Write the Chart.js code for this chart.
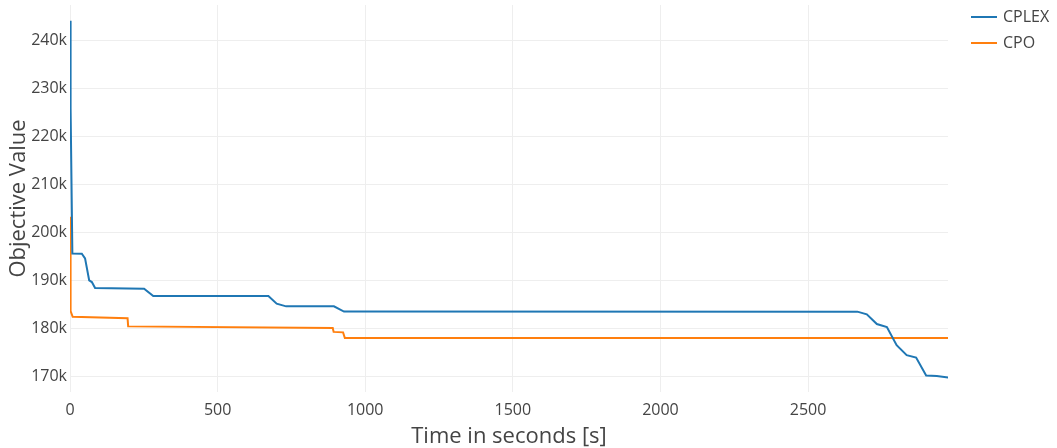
<!DOCTYPE html>
<html>
<head>
<meta charset="utf-8">
<script src="https://cdn.jsdelivr.net/npm/chart.js@4"></script>
<style>
  html, body { margin: 0; padding: 0; background: #fff; }
  #wrap { width: 1057px; height: 448px; }
</style>
</head>
<body>
<div id="wrap"><canvas id="myChart"></canvas></div>
<script>
// datos (tiempo en s, valor objetivo)
const cplexTime = [0, 2, 8, 40, 51, 65, 74, 85, 251, 282, 672, 700, 732, 894, 928, 2667, 2699, 2733, 2767, 2800, 2834, 2866, 2900, 2936, 2975];
const cplexValue = [244200, 226000, 195600, 195560, 194600, 190000, 189650, 188400, 188270, 186730, 186730, 185150, 184580, 184580, 183500, 183480, 182920, 180900, 180270, 176460, 174380, 173900, 170150, 170060, 169730];

const cpoTime = [0, 1, 3, 9, 195, 197, 890, 893, 925, 931, 2975];
const cpoValue = [203300, 190000, 183600, 182400, 182100, 180400, 180050, 179250, 179150, 177980, 177980];

const xTicks = [0, 500, 1000, 1500, 2000, 2500];
const yTicks = [170000, 180000, 190000, 200000, 210000, 220000, 230000, 240000];

const toPoints = (xs, ys) => xs.map((x, i) => ({ x: x, y: ys[i] }));

const font = 'Open Sans';
const textColor = '#444';

// leyenda al estilo plotly, a la derecha
const sideLegend = {
  id: 'sideLegend',
  afterDraw(chart) {
    const c = chart.ctx;
    c.save();
    c.font = '16px "' + font + '"';
    c.textBaseline = 'middle';
    chart.data.datasets.forEach((ds, i) => {
      const y = 17 + i * 26;
      c.strokeStyle = ds.borderColor;
      c.lineWidth = 2;
      c.beginPath();
      c.moveTo(971, y);
      c.lineTo(997, y);
      c.stroke();
      c.fillStyle = textColor;
      c.fillText(ds.label, 1003, y);
    });
    c.restore();
  }
};

const ctx = document.getElementById('myChart');

new Chart(ctx, {
  type: 'line',
  data: {
    datasets: [{
      label: 'CPLEX',
      data: toPoints(cplexTime, cplexValue),
      borderColor: '#1f77b4',
      borderWidth: 2,
      pointRadius: 0,
      tension: 0
    }, {
      label: 'CPO',
      data: toPoints(cpoTime, cpoValue),
      borderColor: '#ff7f0e',
      borderWidth: 2,
      pointRadius: 0,
      tension: 0
    }]
  },
  options: {
    responsive: true,
    maintainAspectRatio: false,
    animation: false,
    layout: { padding: { top: 2, right: 109, bottom: 0, left: 0 } },
    plugins: {
      legend: { display: false },
      tooltip: { enabled: false }
    },
    scales: {
      x: {
        type: 'linear',
        min: 0,
        max: 2974,
        afterBuildTicks: s => { s.ticks = xTicks.map(v => ({ value: v })); },
        afterFit: s => { s.height = 56; },
        border: { display: false },
        grid: { color: '#eeeeee', drawTicks: false },
        ticks: {
          color: textColor,
          font: { family: font, size: 16 },
          padding: 9,
          maxRotation: 0,
          callback: v => String(v)
        },
        title: {
          display: true,
          text: 'Time in seconds [s]',
          color: textColor,
          font: { family: font, size: 22 },
          padding: { top: 0, bottom: -2 }
        }
      },
      y: {
        min: 166700,
        max: 247500,
        afterBuildTicks: s => { s.ticks = yTicks.map(v => ({ value: v })); },
        afterFit: s => { s.width = 70; },
        border: { display: false },
        grid: { color: '#eeeeee', drawTicks: false },
        ticks: {
          color: textColor,
          font: { family: font, size: 16, lineHeight: 0.25 },
          padding: 3,
          callback: v => (v / 1000) + 'k'
        },
        title: {
          display: true,
          text: 'Objective Value',
          color: textColor,
          font: { family: font, size: 22 },
          padding: { top: 6, bottom: 0 }
        }
      }
    }
  },
  plugins: [sideLegend]
});
</script>
</body>
</html>
